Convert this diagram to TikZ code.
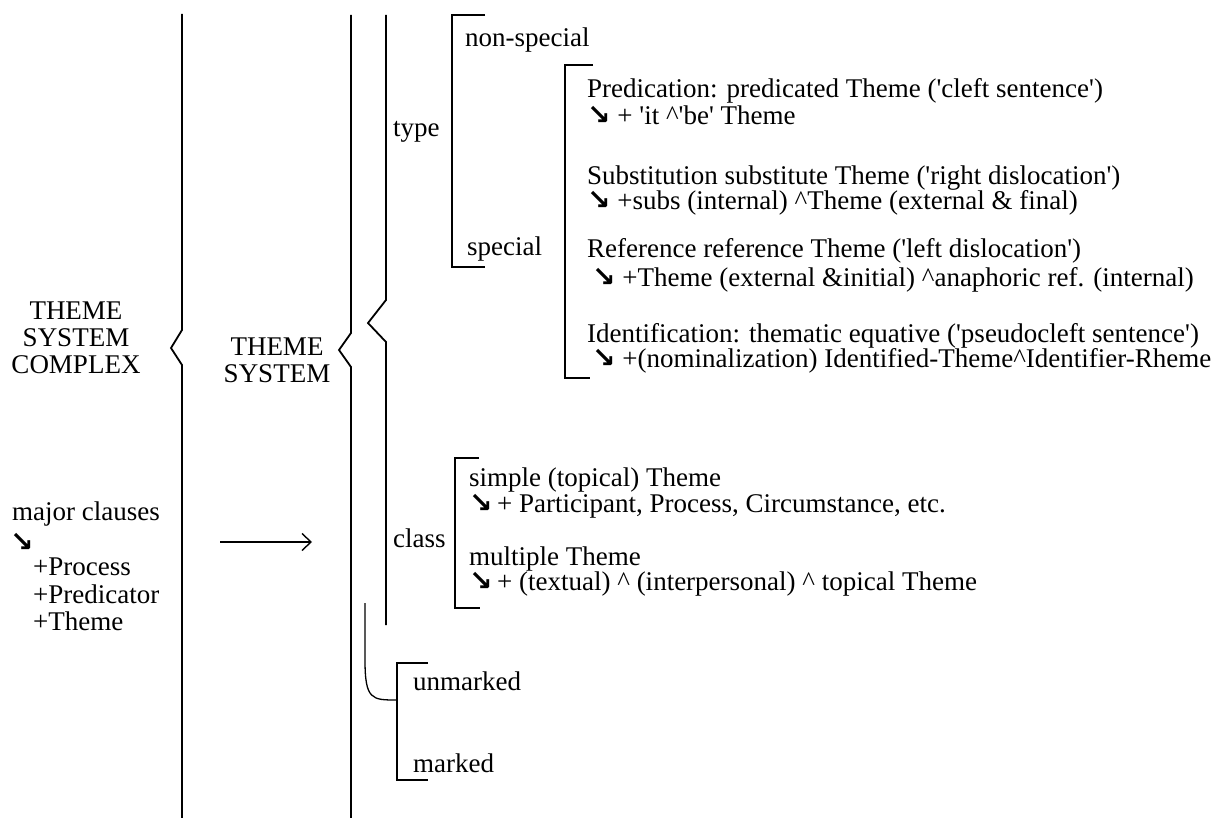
\documentclass[tikz,border=0pt]{standalone}
\usepackage{fontspec}
\setmainfont{Liberation Serif}[Ligatures=TeXOff]
\newfontfamily\symfont{DejaVu Sans}
\usetikzlibrary{positioning,arrows.meta}
\newcommand{\dnarrow}{{\symfont\bfseries\fontsize{28}{27}\selectfont ↘}}
\newcommand{\hatsym}{\textasciicircum}

\begin{document}
\begin{tikzpicture}[%
    x=1pt, y=-1pt,                     % pixel units, y going down
    >={Straight Barb[length=9pt,width=17pt]}, % open arrow head
    font=\fontsize{27}{27}\selectfont, % one text size throughout
    ]
\tikzset{
  lbl/.style={inner sep=0pt, anchor=base west},
  head/.style={inner sep=0pt, align=center},
  sysline/.style={line width=1.8pt},
  bracket/.style={line width=1.8pt},
}
\useasboundingbox (0,0) rectangle (1220,818);

% system names on the left
\node [head] (tsc) at (76,338) {THEME\\SYSTEM\\COMPLEX};
\node [head] (ts) at (277,360) {THEME\\SYSTEM};

\node [lbl] (major) at (12,520) {major clauses};
\node [lbl] (marr) at (10,551) {\dnarrow};
\node [lbl] (mproc) at (33,575) {+Process};
\node [below=28pt of mproc.base west, lbl] (mpred) {+Predicator};
\node [below=27pt of mpred.base west, lbl] (mthm) {+Theme};

\coordinate (arrs) at (220,542);
\coordinate (arre) at (312,542);
\draw [->, line width=1.4pt] (arrs) -- (arre);

% the three big braces
\draw [sysline] (182,14) -- (182,330) -- (171,348) -- (182,365) -- (182,818);
\draw [sysline] (351,15) -- (351,333) -- (339,350) -- (351,367) -- (351,818);
\draw [sysline] (386,15) -- (386,300) -- (368,323) -- (386,342) -- (386,625);

% type
\node [lbl] (type) at (393,137) {type};
\draw [bracket] (485,15) -- (452,15) -- (452,267) -- (485,267);
\node [lbl] (nspec) at (465,47) {non-special};
\node [lbl] (spec) at (467,255) {special};

\draw [bracket] (593,65) -- (565,65) -- (565,378) -- (590,378);
\node [lbl] (pred) at (587,98) {Predication: predicated Theme ('cleft sentence')};
\node [below=27pt of pred.base west, lbl] (pred2) {\dnarrow\ + 'it \hatsym'be' Theme};
\node [lbl] (subs) at (587,185) {Substitution substitute Theme ('right dislocation')};
\node [below=25pt of subs.base west, lbl] (subs2) {\dnarrow\ +subs (internal) \hatsym Theme (external \& final)};
\node [lbl] (refr) at (587,258) {Reference reference Theme ('left dislocation')};
\node [lbl] (refr2) at (592,287) {\dnarrow\ +Theme (external \&initial) \hatsym anaphoric ref. (internal)};
\node [lbl] (ident) at (587,342) {Identification: thematic equative ('pseudocleft sentence')};
\node [lbl] (ident2) at (592,367) {\dnarrow\ +(nominalization) Identified-Theme\hatsym Identifier-Rheme};

% class
\node [lbl] (class) at (393,547) {class};
\draw [bracket] (479,458) -- (455,458) -- (455,608) -- (480,608);
\node [lbl] (simp) at (469,486) {simple (topical) Theme};
\node [below=26pt of simp.base west, lbl] (simp2) {\dnarrow\,+ Participant, Process, Circumstance, etc.};
\node [lbl] (mult) at (469,565) {multiple Theme};
\node [below=25pt of mult.base west, lbl] (mult2) {\dnarrow\,+ (textual) \hatsym\ (interpersonal) \hatsym\ topical Theme};

% marking
\draw [line width=1.3pt] (365,603) -- (365,660) .. controls (365,700) and (372,700) .. (397,700);
\draw [bracket] (428,663) -- (397,663) -- (397,780) -- (428,780);
\node [lbl] (unm) at (413,690) {unmarked};
\node [lbl] (mkd) at (413,772) {marked};

\end{tikzpicture}
\end{document}
